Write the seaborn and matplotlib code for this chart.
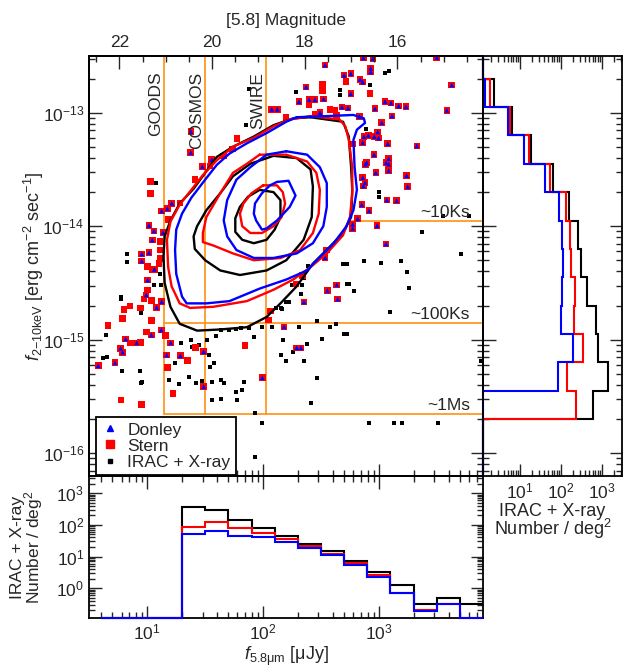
import numpy as np
import matplotlib
matplotlib.use("Agg")
import matplotlib.pyplot as plt
import seaborn as sns
from matplotlib.ticker import LogLocator, NullFormatter, FixedLocator, MultipleLocator
from matplotlib.lines import Line2D

sns.set_style("ticks")
plt.rcParams['font.family'] = ['Liberation Sans', 'DejaVu Sans']
plt.rcParams['mathtext.fontset'] = 'custom'
plt.rcParams['mathtext.rm'] = 'Liberation Sans'
plt.rcParams['mathtext.it'] = 'Liberation Sans:italic'
plt.rcParams['mathtext.bf'] = 'Liberation Sans:bold'

# ---------------- data (log10 f_5.8um [uJy], log10 f_2-10keV [cgs]) ----------------
donley_pts = [
    (2.866, -12.518), (2.947, -12.524), (3.499, -12.514), (2.535, -12.58), (2.929, -12.609),
    (2.929, -12.641), (2.699, -12.67), (2.757, -12.656), (2.837, -12.706), (2.860, -12.73),
    (2.371, -12.774), (3.629, -12.756), (2.757, -12.833), (2.310, -12.903), (2.397, -12.885),
    (2.448, -12.885), (2.523, -12.879), (3.053, -12.903), (3.105, -12.915), (3.171, -12.941),
    (3.234, -12.947), (3.586, -12.979), (2.681, -12.95), (2.733, -12.959), (2.491, -13.0),
    (2.966, -12.965), (3.113, -13.029), (2.831, -13.035), (3.024, -13.088), (2.990, -13.17),
    (2.871, -13.211), (2.909, -13.199), (2.960, -13.211), (2.998, -13.223), (2.860, -13.264),
    (3.076, -13.273), (3.327, -13.293), (2.958, -13.37), (3.085, -13.405), (3.062, -13.441),
    (3.085, -13.455), (2.895, -13.441), (2.883, -13.455), (2.973, -13.529), (3.085, -13.511),
    (3.240, -13.555), (2.860, -13.573), (2.880, -13.617), (2.866, -13.646), (3.249, -13.652),
    (3.068, -13.769), (3.154, -13.775), (2.852, -13.811), (2.915, -13.864), (2.817, -13.934),
    (2.774, -13.983), (2.774, -14.019), (2.984, -13.996), (2.074, -12.97), (2.123, -12.97),
    (1.377, -13.167), (1.375, -13.352), (1.556, -13.414), (1.475, -13.476), (1.211, -13.798),
    (1.173, -13.846), (1.124, -13.866), (1.015, -13.992), (1.058, -14.042), (1.136, -14.057),
    (1.043, -14.122), (0.952, -14.245), (1.015, -14.234), (0.952, -14.307), (1.061, -14.38),
    (1.004, -14.474), (0.991, -14.606), (1.124, -14.665), (1.081, -14.715), (1.121, -14.915),
    (1.035, -14.959), (0.814, -14.994), (0.909, -15.027), (1.202, -15.027), (0.770, -15.076),
    (0.788, -15.111), (1.168, -15.135), (1.285, -15.141), (0.577, -15.229), (0.721, -15.203),
    (1.487, -15.106), (1.487, -15.414), (1.993, -15.335), (3.062, -14.157), (2.549, -14.21),
    (2.535, -14.278), (2.555, -14.568), (2.636, -14.516), (2.644, -14.642), (2.353, -14.668),
    (2.181, -14.886), (2.290, -15.071), (2.327, -15.071),
]

stern_only_pts = [
    (2.716, -12.727), (2.515, -12.747), (2.515, -12.806), (2.923, -12.833), (2.397, -12.926),
    (2.578, -12.97), (2.621, -12.976), (2.448, -13.018), (2.636, -13.023), (2.198, -13.044),
    (2.776, -13.278), (1.775, -13.226), (1.734, -13.322), (1.656, -13.382), (1.541, -13.47),
    (1.412, -13.59), (1.029, -13.608), (1.029, -13.71), (1.282, -13.796), (1.179, -13.939),
    (1.110, -14.137), (1.116, -14.21), (1.116, -14.283), (1.000, -14.357), (1.043, -14.38),
    (1.101, -14.327), (1.004, -14.562), (0.972, -14.642), (1.035, -14.656), (0.851, -14.703),
    (0.801, -14.732), (0.943, -14.721), (0.788, -14.815), (1.035, -14.833), (0.661, -14.877),
    (0.995, -14.932), (1.159, -14.961), (0.851, -15.027), (0.943, -15.023), (1.418, -15.067),
    (1.844, -15.053), (1.176, -15.243), (1.349, -15.185), (1.222, -15.472), (0.773, -15.531),
    (0.952, -15.569), (2.339, -14.436), (2.284, -14.509), (2.066, -14.747), (2.045, -14.827),
]

irac_xray_pts = [
    (3.053, -12.648), (3.085, -12.635), (2.923, -12.756), (2.282, -12.815), (2.664, -12.797),
    (2.664, -12.844), (2.889, -13.146), (2.998, -13.696), (2.998, -13.74), (3.556, -13.91),
    (3.778, -13.907), (3.370, -14.049), (1.878, -12.789), (1.850, -13.108), (1.073, -13.617),
    (0.822, -14.245), (0.822, -14.318), (1.110, -14.424), (1.058, -14.518), (1.116, -14.518),
    (0.770, -14.621), (0.770, -14.644), (0.943, -14.768), (0.641, -14.959), (0.650, -15.15),
    (0.620, -15.164), (0.784, -15.273), (1.928, -15.643), (1.988, -15.731), (1.928, -16.031),
    (1.289, -15.027), (1.375, -15.003), (1.389, -15.062), (1.447, -15.047), (1.518, -15.003),
    (1.591, -14.968), (1.634, -14.915), (1.706, -14.915), (1.764, -14.908), (1.807, -14.90),
    (1.878, -14.90), (1.922, -14.974), (1.993, -14.886), (2.074, -14.886), (2.109, -14.723),
    (2.152, -14.723), (2.175, -15.003), (2.195, -14.665), (1.239, -15.203), (1.533, -15.135),
    (1.576, -15.203), (1.539, -15.243), (1.360, -15.326), (1.418, -15.379), (1.475, -15.361),
    (1.561, -15.37), (1.634, -15.355), (1.662, -15.384), (1.274, -15.393), (1.187, -15.355),
    (0.957, -15.37), (0.943, -15.384), (1.764, -15.461), (1.820, -15.443), (1.835, -15.37),
    (1.777, -15.531), (1.634, -15.525), (1.559, -15.531), (0.937, -15.276), (3.707, -14.245),
    (2.391, -14.348), (2.693, -14.33), (2.722, -14.33), (2.871, -14.307), (3.016, -14.322),
    (3.188, -14.307), (3.240, -14.404), (2.353, -14.454), (2.250, -14.521), (2.334, -14.521),
    (2.722, -14.507), (2.742, -14.507), (2.785, -14.571), (3.260, -14.542), (2.327, -14.595),
    (2.221, -14.665), (2.163, -14.727), (3.096, -14.753), (2.463, -14.833), (2.310, -14.888),
    (2.578, -14.888), (2.630, -14.859), (2.701, -14.947), (2.725, -14.947), (2.509, -14.991),
    (2.377, -15.038), (2.256, -15.106), (2.155, -15.135), (2.198, -15.185), (2.353, -15.185),
    (2.463, -15.335), (2.414, -15.555), (2.915, -15.731), (3.128, -15.731), (3.200, -15.731),
    (3.511, -15.731), (3.885, -15.185),
]

# density contours (log10 coordinates), three levels per sample
contour_black_outer = [
    (2.41, -13.04), (2.69, -13.08), (2.74, -13.21), (2.76, -13.48), (2.77, -13.68), (2.76, -13.92),
    (2.69, -14.06), (2.55, -14.21), (2.43, -14.33), (2.29, -14.53), (2.15, -14.68), (2.03, -14.80),
    (1.86, -14.89), (1.63, -14.91), (1.43, -14.92), (1.28, -14.86), (1.20, -14.71), (1.15, -14.50),
    (1.14, -14.27), (1.15, -14.09), (1.20, -13.95), (1.28, -13.80), (1.40, -13.67), (1.50, -13.53),
    (1.60, -13.39), (1.74, -13.30), (1.92, -13.21), (2.09, -13.11), (2.26, -13.05)]
contour_red_outer = [
    (2.41, -13.03), (2.66, -13.06), (2.71, -13.12), (2.74, -13.24), (2.77, -13.48), (2.77, -13.71),
    (2.75, -13.92), (2.69, -14.08), (2.55, -14.24), (2.41, -14.36), (2.26, -14.47), (2.09, -14.56),
    (1.86, -14.66), (1.57, -14.71), (1.37, -14.72), (1.28, -14.68), (1.21, -14.53), (1.18, -14.36),
    (1.17, -14.12), (1.20, -13.96), (1.28, -13.81), (1.38, -13.68), (1.48, -13.55), (1.60, -13.42),
    (1.74, -13.30), (1.92, -13.22), (2.09, -13.12), (2.23, -13.06)]
contour_blue_outer = [
    (2.29, -13.04), (2.55, -13.03), (2.78, -13.02), (2.87, -13.05), (2.88, -13.09), (2.81, -13.15),
    (2.78, -13.24), (2.79, -13.48), (2.81, -13.68), (2.78, -13.86), (2.72, -14.00), (2.61, -14.15),
    (2.49, -14.27), (2.38, -14.39), (2.20, -14.47), (1.97, -14.55), (1.71, -14.66), (1.51, -14.68),
    (1.34, -14.68), (1.30, -14.62), (1.25, -14.42), (1.24, -14.21), (1.25, -14.03), (1.30, -13.89),
    (1.38, -13.75), (1.50, -13.59), (1.60, -13.46), (1.71, -13.36), (1.86, -13.27), (2.03, -13.18),
    (2.20, -13.08)]
contour_blue_mid = [
    (2.20, -13.34), (2.38, -13.37), (2.49, -13.48), (2.55, -13.62), (2.55, -13.83), (2.52, -14.00),
    (2.43, -14.15), (2.29, -14.24), (2.09, -14.28), (1.92, -14.28), (1.77, -14.21), (1.69, -14.09),
    (1.66, -13.95), (1.69, -13.77), (1.77, -13.59), (1.89, -13.48), (2.03, -13.37)]
contour_red_mid = [
    (1.97, -13.37), (2.20, -13.37), (2.38, -13.43), (2.46, -13.53), (2.49, -13.68), (2.48, -13.89),
    (2.43, -14.06), (2.32, -14.21), (2.15, -14.28), (1.92, -14.30), (1.74, -14.24), (1.57, -14.17),
    (1.48, -14.14), (1.48, -14.06), (1.51, -13.92), (1.63, -13.71), (1.74, -13.53), (1.86, -13.45)]
contour_black_mid = [
    (2.09, -13.38), (2.29, -13.40), (2.41, -13.50), (2.43, -13.65), (2.42, -13.92), (2.35, -14.12),
    (2.20, -14.30), (2.03, -14.39), (1.80, -14.43), (1.63, -14.39), (1.50, -14.30), (1.41, -14.20),
    (1.40, -14.09), (1.43, -14.00), (1.51, -13.86), (1.63, -13.71), (1.74, -13.56), (1.89, -13.45)]
contour_black_inner = [
    (1.97, -13.68), (2.09, -13.70), (2.15, -13.77), (2.15, -13.92), (2.10, -14.03), (2.03, -14.12),
    (1.92, -14.15), (1.82, -14.12), (1.76, -14.05), (1.76, -13.93), (1.80, -13.83), (1.87, -13.74)]
contour_red_inner = [
    (2.00, -13.64), (2.12, -13.64), (2.17, -13.70), (2.19, -13.80), (2.16, -13.92), (2.09, -14.00),
    (1.99, -14.06), (1.89, -14.06), (1.82, -14.00), (1.80, -13.89), (1.83, -13.80), (1.90, -13.71)]
contour_blue_inner = [
    (2.12, -13.61), (2.22, -13.60), (2.28, -13.73), (2.23, -13.83), (2.12, -13.95), (2.03, -14.02),
    (1.99, -14.03), (1.94, -13.95), (1.92, -13.89), (1.93, -13.80), (1.99, -13.71), (2.06, -13.64)]

# survey flux limits
survey_names = ["GOODS", "COSMOS", "SWIRE"]
survey_f58 = [14.0, 31.5, 106.0]          # uJy
depth_labels = ["~10Ks", "~100Ks", "~1Ms"]
depth_fx = [1.11e-14, 1.39e-15, 2.21e-16]  # erg/cm2/s
depth_start_f58 = [560.0, 14.0, 14.0]

# bottom histogram: number / deg^2 per log f_5.8 bin
bot_edges_log = [0.6, 1.3, 1.5, 1.7, 1.9, 2.1, 2.3, 2.5, 2.7, 2.9, 3.1, 3.3, 3.5, 3.7, 3.899]
bot_all =    [0, 369, 290, 140, 82, 44, 25, 15, 7.3, 3.3, 1.24, 0.31, 0.50, 0.31]
bot_stern =  [0, 86, 126, 78, 55, 35, 21, 12.4, 6.3, 2.6, 0.71, 0.20, 0.31, 0]
bot_donley = [0, 53, 64, 45, 40, 28, 18, 11, 5.4, 2.3, 0.71, 0.19, 0.31, 0]

# right histogram: number / deg^2 per log f_X bin
right_edges_log = [-16.205, -15.7, -15.45, -15.2, -14.95, -14.7, -14.45, -14.2, -13.95,
                   -13.7, -13.45, -13.2, -12.95, -12.7, -12.505]
right_all =    [0, 605, 1450, 830, 726, 448, 314, 258, 162, 63, 18.3, 6.5, 2.3, 0]
right_stern =  [0, 235, 145, 345, 213, 223, 174, 168, 132, 56, 16.6, 5.9, 1.9, 0]
right_donley = [0, 0, 87, 195, 101, 105, 111, 109, 91, 41, 12.5, 5.2, 1.39, 0]

# ---------------- figure ----------------
ORANGE = "#ff9010"
fig = plt.figure(figsize=(6.3, 6.71), dpi=100)
ax = fig.add_axes([0.1413, 0.2899, 0.6254, 0.6259])
axr = fig.add_axes([0.7667, 0.2899, 0.2201, 0.6259], sharey=ax)
axb = fig.add_axes([0.1413, 0.0794, 0.6254, 0.2105], sharex=ax)

XLIM = (10 ** 0.497, 10 ** 3.899)
YLIM = (10 ** -16.205, 10 ** -12.505)
ax.set_xscale("log"); ax.set_yscale("log")
ax.set_xlim(*XLIM); ax.set_ylim(*YLIM)

def unzip(pts):
    a = np.array(pts)
    return 10 ** a[:, 0], 10 ** a[:, 1]

# survey lines
for name, f in zip(survey_names, survey_f58):
    ax.plot([f, f], [depth_fx[2], YLIM[1]], color=ORANGE, lw=1.2, zorder=1)
    ax.text(f * 0.985, 10 ** -12.64, name, rotation=90, ha="right", va="top", fontsize=12.5, zorder=5)
for lab, fx, f0 in zip(depth_labels, depth_fx, depth_start_f58):
    ax.plot([f0, XLIM[1]], [fx, fx], color=ORANGE, lw=1.2, zorder=1)
    ax.text(10 ** 3.787, fx * 1.03, lab, ha="right", va="bottom", fontsize=12.5, zorder=5)

kx, ky = unzip(irac_xray_pts)
sns.scatterplot(x=kx, y=ky, marker="s", s=9, color="black", edgecolor="none", linewidth=0,
                ax=ax, legend=False, zorder=3)
sx, sy = unzip(stern_only_pts + donley_pts)
sns.scatterplot(x=sx, y=sy, marker="s", s=22, color="red", edgecolor="none", linewidth=0,
                ax=ax, legend=False, zorder=3)
dx, dy = unzip(donley_pts)
sns.scatterplot(x=dx, y=dy, marker="^", s=12, color="blue", edgecolor="none", linewidth=0,
                ax=ax, legend=False, zorder=3)

for pts, col in [(contour_black_outer, "black"), (contour_red_outer, "red"), (contour_blue_outer, "blue"),
                 (contour_black_mid, "black"), (contour_red_mid, "red"), (contour_blue_mid, "blue"),
                 (contour_black_inner, "black"), (contour_red_inner, "red"), (contour_blue_inner, "blue")]:
    cx, cy = unzip(pts + pts[:1])
    ax.plot(cx, cy, color=col, lw=1.7, zorder=4, solid_joinstyle="round")

handles = [Line2D([], [], marker="^", color="blue", ls="none", markersize=4.5),
           Line2D([], [], marker="s", color="red", ls="none", markersize=6),
           Line2D([], [], marker="s", color="black", ls="none", markersize=3.2)]
leg = ax.legend(handles, ["Donley", "Stern", "IRAC + X-ray"], loc="lower left",
                bbox_to_anchor=(0.018, 0.004), fontsize=12.5, frameon=True, fancybox=False,
                framealpha=1, edgecolor="black", handlelength=1.0, handletextpad=0.5,
                labelspacing=0.05, borderpad=0.3, borderaxespad=0.0)
leg.get_frame().set_linewidth(1.3)
leg.set_zorder(6)

ax.set_ylabel(r"$f_{\rm 2\mathrm{-}10keV}$ [erg cm$^{-2}$ sec$^{-1}$]", fontsize=13)
ax.yaxis.set_label_coords(-0.108, 0.5)

# top magnitude axis (AB)
axt = ax.twiny()
axt.set_xlim(23.9 - 2.5 * np.log10(XLIM[0]), 23.9 - 2.5 * np.log10(XLIM[1]))
axt.xaxis.set_major_locator(FixedLocator([22, 20, 18, 16]))
axt.xaxis.set_minor_locator(MultipleLocator(0.5))
axt.set_xlabel("[5.8] Magnitude", fontsize=12.5, labelpad=7)

# bottom histogram
be = 10 ** np.array(bot_edges_log)
BYLIM = (10 ** -0.928, 10 ** 3.524)
axb.set_yscale("log")
axb.set_ylim(*BYLIM)
for vals, col in [(bot_all, "black"), (bot_stern, "red"), (bot_donley, "blue")]:
    v = np.where(np.array(vals) > 0, vals, BYLIM[0])
    axb.stairs(v, be, baseline=None, color=col, lw=1.5, zorder=3, clip_on=False)
axb.set_xlabel(r"$f_{\rm 5.8\mu m}$ [$\rm\mu$Jy]", fontsize=13, labelpad=2)
axb.set_ylabel("IRAC + X-ray\nNumber / deg$^2$", fontsize=12.5, linespacing=0.85)
axb.yaxis.set_label_coords(-0.112, 0.5)

# right histogram
re = 10 ** np.array(right_edges_log)
RXLIM = (10 ** 0.1, 10 ** 3.49)
axr.set_xscale("log")
axr.set_xlim(*RXLIM)
for vals, col in [(right_all, "black"), (right_stern, "red"), (right_donley, "blue")]:
    v = np.where(np.array(vals) > 0, vals, RXLIM[0])
    axr.stairs(v, re, baseline=None, orientation="horizontal", color=col, lw=1.5, zorder=3,
               clip_on=False)
axr.set_xlabel("IRAC + X-ray\nNumber / deg$^2$", fontsize=13, labelpad=1, linespacing=0.85)

# ticks / spines
for a in (ax, axr, axb, axt):
    for s in a.spines.values():
        s.set_linewidth(1.3)
        s.set_color("black")
ax.tick_params(which="both", direction="in", left=True, right=True, top=False, bottom=True,
               labelbottom=False, labelsize=12.5, width=1.0)
ax.tick_params(which="major", length=9)
ax.tick_params(which="minor", length=4.5)
axt.tick_params(which="both", direction="in", top=True, bottom=False, labelsize=12.5, width=1.0, pad=5)
axt.tick_params(which="major", length=9)
axt.tick_params(which="minor", length=4.5)
axr.tick_params(which="both", direction="in", left=True, right=True, top=True, bottom=True,
                labelleft=False, labelsize=12.5, width=1.0)
axr.tick_params(which="major", length=9)
axr.tick_params(which="minor", length=4.5)
axb.tick_params(which="both", direction="in", left=True, right=True, top=True, bottom=True,
                labelsize=12.5, width=1.0)
axb.tick_params(which="major", length=9)
axb.tick_params(which="minor", length=4.5)

for a, axis in [(ax, ax.yaxis), (ax, ax.xaxis), (axr, axr.xaxis), (axb, axb.yaxis)]:
    axis.set_major_locator(LogLocator(base=10, numticks=20))
    axis.set_minor_locator(LogLocator(base=10, subs=np.arange(2, 10), numticks=20))
    axis.set_minor_formatter(NullFormatter())

fig.savefig("out.png", dpi=100)
